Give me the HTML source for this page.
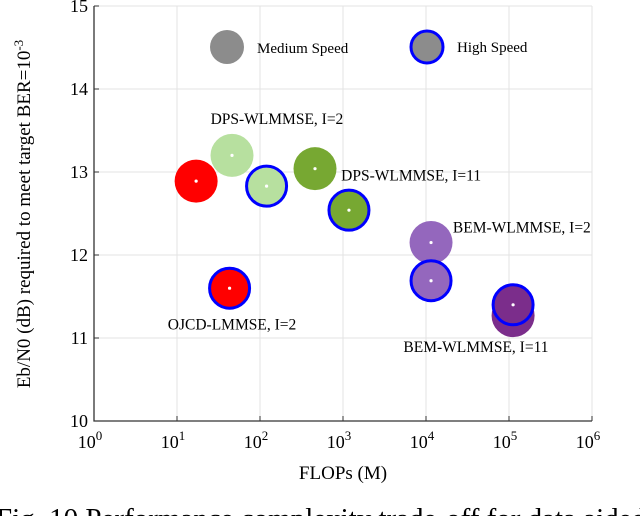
<!DOCTYPE html>
<html><head><meta charset="utf-8"><style>
body{margin:0;width:640px;height:516px;overflow:hidden;background:#fff;font-family:"Liberation Serif",serif;}
</style></head><body>
<svg id="chart" width="640" height="516" xmlns="http://www.w3.org/2000/svg" font-family="Liberation Serif, serif">
<g id="grid"></g>
<g id="axes"></g>
<g id="marks"></g>
<g id="labels"></g>
<text x="343" y="479" font-size="19" text-anchor="middle">FLOPs (M)</text>
<text transform="translate(30,214) rotate(-90)" font-size="19" text-anchor="middle">Eb/N0 (dB) required to meet target BER=10<tspan dy="-7" font-size="13">-3</tspan></text>
<text x="-4" y="528" font-size="28" textLength="650" lengthAdjust="spacingAndGlyphs">Fig. 10 Performance complexity trade-off for data aided</text>
<g>
<circle cx="227" cy="47" r="17" fill="#8c8c8c"/>
<text x="257" y="53" font-size="15">Medium Speed</text>
<circle cx="427" cy="47" r="16" fill="#8c8c8c" stroke="#0000ff" stroke-width="3"/>
<text x="457" y="52" font-size="15">High Speed</text>
</g>
</svg>
<script>
const names=["ojcd-i2-med","dps-i2-med","dps-i2-high","dps-i11-med","dps-i11-high","ojcd-i2-high","bem-i2-med","bem-i2-high","bem-i11-med","bem-i11-high"];
const flops=[17,46,120,460,1180,43,11500,11500,112000,112000];
const ebn0=[12.89,13.2,12.83,13.04,12.54,11.6,12.15,11.69,11.27,11.4];
const highSpeed=[0,0,1,0,1,1,0,1,0,1];
const colors=["#ff0000","#b7e09f","#b7e09f","#77a832","#77a832","#ff0000","#9467bd","#9467bd","#7b2d8b","#7b2d8b"];
const xTicks=[0,1,2,3,4,5,6];
const yTicks=[10,11,12,13,14,15];
const seriesLabels=["DPS-WLMMSE, I=2","DPS-WLMMSE, I=11","OJCD-LMMSE, I=2","BEM-WLMMSE, I=2","BEM-WLMMSE, I=11"];
const labelAnchor=[[160,13.58],[950,12.9],[46,11.1],[21100,12.27],[40000,10.83]];
const labelAlign=["middle","start","middle","start","middle"];
const NS="http://www.w3.org/2000/svg";
const X0=94,X1=592,Y0=421,Y1=6;
function sx(v){return X0+(Math.log10(v)-0)/6*(X1-X0);}
function sy(v){return Y0-(v-10)/5*(Y0-Y1);}
function mk(t,a,p){const e=document.createElementNS(NS,t);for(const k in a)e.setAttribute(k,a[k]);p.appendChild(e);return e;}
const grid=document.getElementById('grid'),axes=document.getElementById('axes'),marks=document.getElementById('marks'),labels=document.getElementById('labels');
xTicks.forEach(p=>{const x=sx(Math.pow(10,p));
 const g=mk('line',{x1:x,x2:x,y1:Y1,y2:Y0,stroke:'#e3e3e3','stroke-width':1},grid);
 
 
 const t=mk('line',{x1:x,x2:x,y1:Y0,y2:Y0-5,stroke:'#333','stroke-width':1},axes);
 
 
 const l=mk('text',{x:x-4,y:Y0+27,'font-size':18,'text-anchor':'middle'},axes);
 
 
 l.innerHTML='10<tspan dy="-8" font-size="13">'+p+'</tspan>';
});
yTicks.forEach(v=>{const y=sy(v);
 const g=mk('line',{x1:X0,x2:X1,y1:y,y2:y,stroke:'#e3e3e3','stroke-width':1},grid);
 
 
 const t=mk('line',{x1:X0,x2:X0+5,y1:y,y2:y,stroke:'#333'},axes);
 
 
 const l=mk('text',{x:X0-6,y:y+6,'font-size':18,'text-anchor':'end'},axes);
 
 
 l.textContent=v;
});
const ax=mk('path',{d:`M${X0},${Y1}V${Y0}H${X1}`,fill:'none',stroke:'#333','stroke-width':1.3},axes);


flops.forEach((f,i)=>{const cx=sx(f),cy=sy(ebn0[i]);
 const c=mk('circle',{cx:cx,cy:cy,r:highSpeed[i]?20:21.5,fill:colors[i]},marks);
 if(highSpeed[i]){c.setAttribute('stroke','#0000ff');c.setAttribute('stroke-width',3);}
 
 
 const d=mk('circle',{cx:cx,cy:cy,r:1.6,fill:'#fff'},marks);
 
 
});
seriesLabels.forEach((s,i)=>{const a=labelAnchor[i];
 const t=mk('text',{x:sx(a[0]),y:sy(a[1]),'font-size':15.5,'text-anchor':labelAlign[i]},labels);
 
 
 t.textContent=s;
});
</script>
</body></html>
